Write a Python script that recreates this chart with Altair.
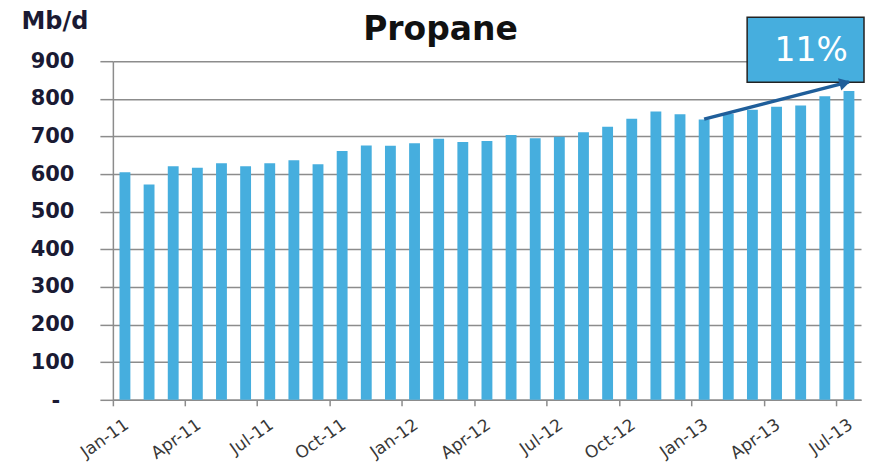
import altair as alt
import pandas as pd

months = ["Jan-11", "Feb-11", "Mar-11", "Apr-11", "May-11", "Jun-11", "Jul-11", "Aug-11",
          "Sep-11", "Oct-11", "Nov-11", "Dec-11", "Jan-12", "Feb-12", "Mar-12", "Apr-12",
          "May-12", "Jun-12", "Jul-12", "Aug-12", "Sep-12", "Oct-12", "Nov-12", "Dec-12",
          "Jan-13", "Feb-13", "Mar-13", "Apr-13", "May-13", "Jun-13", "Jul-13"]
values = [605, 572, 621, 617, 629, 621, 629, 637, 626, 661, 676, 675,
          682, 694, 685, 688, 704, 695, 699, 711, 726, 747, 766, 759,
          745, 760, 771, 779, 782, 807, 821]
tick_months = ["Jan-11", "Apr-11", "Jul-11", "Oct-11", "Jan-12", "Apr-12", "Jul-12",
               "Oct-12", "Jan-13", "Apr-13", "Jul-13"]
y_ticks = [0, 100, 200, 300, 400, 500, 600, 700, 800, 900]
zero_label = "-"

chart_title = "Propane"
arrow_start = ["Jan-13", 746]
arrow_end = ["Jul-13", 845]
growth_label = "11%"

df = pd.DataFrame({"month": months, "value": values})
arrow_df = pd.DataFrame({"m1": [arrow_start[0]], "v1": [arrow_start[1]],
                         "m2": [arrow_end[0]], "v2": [arrow_end[1]]})
note_df = pd.DataFrame({"label": [growth_label]})
title_df = pd.DataFrame({"label": [chart_title]})
zero_df = pd.DataFrame({"v": [0], "label": [zero_label]})

BAR = "#46AEDE"
GRID = "#8c8c8c"
NAVY = "#1a1a33"

x_scale = alt.Scale(domain=months, paddingInner=0, paddingOuter=0)
y_scale = alt.Scale(domain=[0, 900], nice=False)

x_axis = alt.Axis(values=tick_months, bandPosition=0, title=None,
                  labelAngle=325, labelAlign="right", labelBaseline="middle",
                  labelFont="DejaVu Sans", labelFontSize=17, labelColor="#383838",
                  labelPadding=17, labelOffset=2, labelOverlap=False,
                  tickSize=6, tickColor=GRID, tickWidth=1.5,
                  domainColor=GRID, domainWidth=1.5, grid=False)
y_axis = alt.Axis(values=y_ticks, title="Mb/d", titleAngle=0, titleX=-92,
                  titleY=-33, titleAlign="left", titleBaseline="alphabetic",
                  titleFont="DejaVu Sans", titleFontSize=24, titleFontWeight="bold",
                  titleColor=NAVY, labelOverlap=False,
                  labelExpr="datum.value == 0 ? '' : datum.label",
                  labelFont="DejaVu Sans", labelFontSize=21, labelFontWeight="bold",
                  labelColor=NAVY, labelPadding=26,
                  tickSize=13, tickColor=GRID, tickWidth=1.5,
                  domainColor=GRID, domainWidth=1.5,
                  grid=True, gridColor=GRID, gridWidth=1.5)

bars = alt.Chart(df).mark_bar(color=BAR, width=alt.RelativeBandSize(0.45)).encode(
    x=alt.X("month:N", sort=months, scale=x_scale, axis=x_axis),
    y=alt.Y("value:Q", scale=y_scale, axis=y_axis),
)

zero_text = alt.Chart(zero_df).mark_text(font="DejaVu Sans", fontSize=21, fontWeight="bold",
                                         color=NAVY, align="center", baseline="middle",
                                         dy=2).encode(
    x=alt.value(-57), y=alt.Y("v:Q", scale=y_scale, axis=y_axis), text="label:N")

title_text = alt.Chart(title_df).mark_text(font="DejaVu Sans", fontSize=33, fontWeight="bold",
                                           color="#111111", align="center",
                                           baseline="alphabetic").encode(
    x=alt.value(328), y=alt.value(-21), text="label:N")

box = alt.Chart(note_df).mark_rect(fill=BAR, stroke="#222222", strokeWidth=1.5).encode(
    x=alt.value(635), x2=alt.value(752), y=alt.value(-44), y2=alt.value(21))

box_text = alt.Chart(note_df).mark_text(font="DejaVu Sans", fontSize=33, color="white",
                                        align="center", baseline="middle").encode(
    x=alt.value(699), y=alt.value(-10), text="label:N")

arrow_line = alt.Chart(arrow_df).mark_rule(color="#1F5E9A", strokeWidth=3.5).encode(
    x=alt.X("m1:N", sort=months, scale=x_scale, axis=x_axis),
    y=alt.Y("v1:Q", scale=y_scale, axis=y_axis),
    x2="m2:N", y2="v2:Q")

arrow_head = alt.Chart(arrow_df).mark_point(shape="triangle-right", angle=345, filled=True,
                                            opacity=1, color="#1F5E9A", size=160,
                                            xOffset=-4, yOffset=1).encode(
    x=alt.X("m2:N", sort=months, scale=x_scale, axis=x_axis),
    y=alt.Y("v2:Q", scale=y_scale, axis=y_axis))

chart = alt.layer(bars, zero_text, title_text, box, box_text, arrow_line, arrow_head).properties(
    width=749, height=339,
    autosize=alt.AutoSizeParams(type="none"),
    padding={"left": 105, "top": 53, "right": 10, "bottom": 62},
).configure_view(stroke=None)

chart.save("out.html", embed_options={"renderer": "svg", "actions": False})
